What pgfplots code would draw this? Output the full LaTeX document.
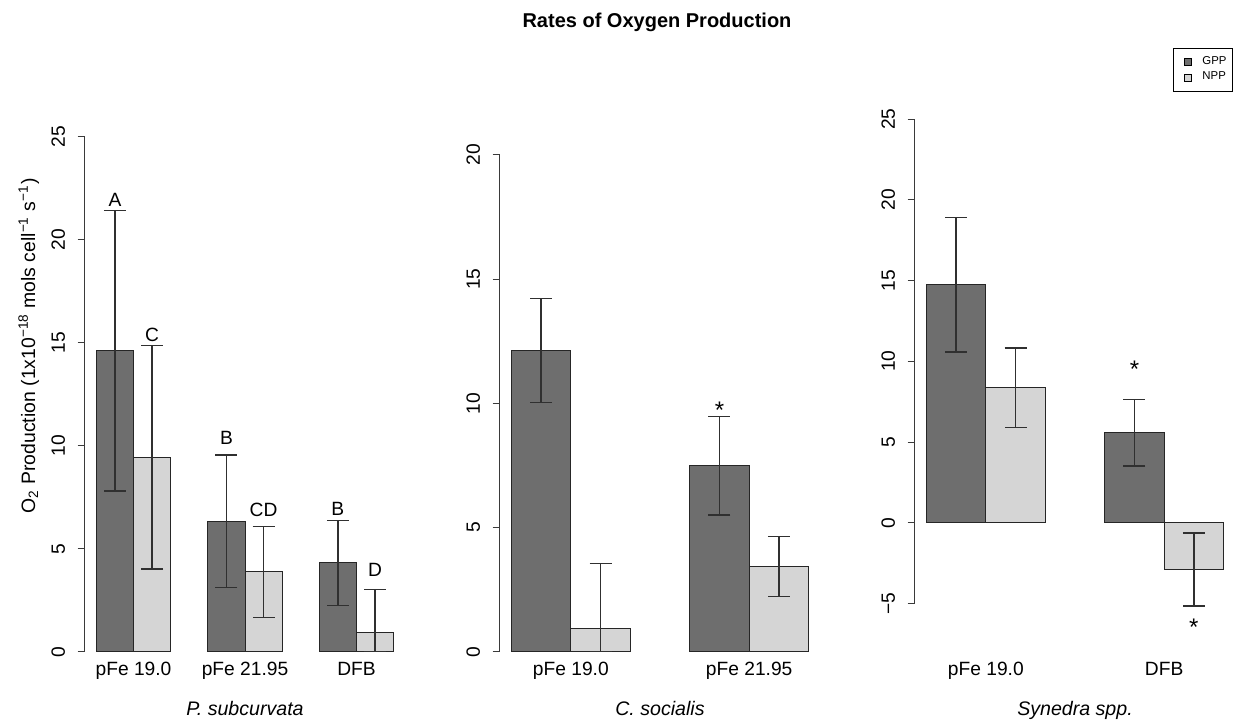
\documentclass[border=0pt]{standalone}
\usepackage{fontspec}
\setmainfont{Liberation Sans}
\usepackage{pgfplots}
\usepackage{pgfplotstable}
\pgfplotsset{compat=1.18}

\definecolor{gppfill}{HTML}{6E6E6E}
\definecolor{nppfill}{HTML}{D5D5D5}
\definecolor{axisgray}{HTML}{3A3A3A}
\definecolor{errgray}{HTML}{303030}

% x = bar centre, y = mean, ep/em = upper/lower error
\pgfplotstableread{
x   y      ep    em
1.5 14.60  6.80  6.80
4.5  6.33  3.22  3.22
7.5  4.31  2.06  2.06
}\psubGPP
\pgfplotstableread{
x   y      ep    em
2.5  9.44  5.43  5.43
5.5  3.87  2.22  2.22
8.5  0.92  2.11  0.92
}\psubNPP
\pgfplotstableread{
x   y      ep    em
1.5 12.12  2.10  2.10
4.5  7.49  1.99  1.99
}\csocGPP
\pgfplotstableread{
x   y      ep    em
2.5  0.94  2.61  0.94
5.5  3.43  1.22  1.22
}\csocNPP
\pgfplotstableread{
x   y      ep    em
1.5 14.75  4.17  4.17
4.5  5.57  2.05  2.05
}\synGPP
\pgfplotstableread{
x   y      ep    em
2.5  8.35  2.47  2.47
5.5 -2.89  2.26  2.26
}\synNPP

\tikzset{
  sigstar/.style={anchor=base, font=\fontsize{12}{13}\selectfont},
  grouplabel/.style={anchor=base, font=\fontsize{9.6}{11}\selectfont},
}

\pgfplotsset{
  panel/.style={
    scale only axis, width=160.5pt, height=278.3pt,
    anchor=south west,
    axis x line*=bottom, axis y line*=left,
    x axis line style={draw=none}, y axis line style={draw=none},
    xtick style={draw=none},
    ytick style={axisgray, line width=0.5pt},
    tick align=outside, major tick length=3.5pt,
    clip=false,
    every tick label/.append style={font=\fontsize{9.6}{11}\selectfont},
    /pgf/number format/assume math mode=true,
    yticklabel style={rotate=90, anchor=south, inner sep=0pt},
    yticklabel shift=6pt,
    xticklabel style={anchor=base, inner sep=0pt},
    xticklabel shift=-1.8pt,
    every axis x label/.style={at={(rel axis cs:0.5,-0.0762)}, anchor=base,
      font=\fontsize{9.8}{11}\selectfont\itshape},
  },
  sq legend/.style={legend image code/.code={
      \path (0pt,0pt);
      \draw[##1, line width=0.4pt, draw=black] (3.0pt,-1.8pt) rectangle (6.6pt,1.8pt);}},
  barset/.style={ybar, bar width=1, bar shift=0pt, draw=black!85, line width=0.5pt,
    error bars/y dir=both, error bars/y explicit,
    error bars/error bar style={line width=0.65pt, draw=errgray},
    error bars/error mark options={rotate=90, line width=0.65pt, draw=errgray, mark size=5.5pt}},
  gpp/.style={barset, fill=gppfill, sq legend},
  npp/.style={barset, fill=nppfill, sq legend},
}

\begin{document}
\begin{tikzpicture}
\useasboundingbox (0,0) rectangle (618pt,360.5pt);

\node[anchor=base, font=\bfseries\fontsize{10}{12}\selectfont] at (328.5pt,346.5pt)
  {Rates of Oxygen Production};

% P. subcurvata
\begin{axis}[panel, at={(42.25pt,24.2pt)},
  xmin=0.68, xmax=9.32, ymin=-1.015, ymax=26.0,
  xtick={2,5,8}, xticklabels={pFe 19.0, pFe 21.95, DFB},
  ytick={0,5,10,15,20,25}, yticklabels={0,5,10,15,20,25},
  xlabel={P. subcurvata},
  ylabel={O\textsubscript{2} Production (1x10\textsuperscript{−18} mols cell\textsuperscript{−1} s\textsuperscript{−1})},
  every axis y label/.style={at={(rel axis cs:-0.154,0.5868)}, rotate=90, anchor=base,
    font=\fontsize{9.7}{11}\selectfont},
]
\addplot[gpp] table[x=x, y=y, y error plus=ep, y error minus=em] {\psubGPP};
\addplot[npp] table[x=x, y=y, y error plus=ep, y error minus=em] {\psubNPP};
\draw[axisgray, line width=0.5pt] (axis cs:0.68,0) -- (axis cs:0.68,25);
\node[grouplabel] at (axis cs:1.5,21.59) {A};
\node[grouplabel] at (axis cs:2.5,15.04) {C};
\node[grouplabel] at (axis cs:4.5,10.06) {B};
\node[grouplabel] at (axis cs:5.5,6.56) {CD};
\node[grouplabel] at (axis cs:7.5,6.60) {B};
\node[grouplabel] at (axis cs:8.5,3.63) {D};
\end{axis}

% C. socialis
\begin{axis}[panel, at={(249.75pt,24.2pt)},
  xmin=0.8, xmax=6.2, ymin=-0.842, ymax=21.57,
  xtick={2,5}, xticklabels={pFe 19.0, pFe 21.95},
  ytick={0,5,10,15,20}, yticklabels={0,5,10,15,20},
  xlabel={C. socialis},
]
\addplot[gpp] table[x=x, y=y, y error plus=ep, y error minus=em] {\csocGPP};
\addplot[npp] table[x=x, y=y, y error plus=ep, y error minus=em] {\csocNPP};
\draw[axisgray, line width=0.5pt] (axis cs:0.8,0) -- (axis cs:0.8,20);
\node[sigstar] at (axis cs:4.5,9.40) {*};
\end{axis}

% Synedra spp.
\begin{axis}[panel, at={(457.25pt,24.2pt)},
  xmin=0.8, xmax=6.2, ymin=-9.276, ymax=25.19,
  xtick={2,5}, xticklabels={pFe 19.0, DFB},
  ytick={-5,0,5,10,15,20,25}, yticklabels={−5,0,5,10,15,20,25},
  xlabel={Synedra spp.},
  legend style={at={(rel axis cs:0.992,1.1222)}, anchor=north east,
    draw=black, line width=0.4pt, fill=white,
    font=\fontsize{5.7}{6}\selectfont,
    inner xsep=2pt, inner ysep=3pt, row sep=0.4pt,
    /tikz/column sep=4.25pt, nodes={inner sep=1pt}},
  legend cell align=left,
]
\addplot[gpp] table[x=x, y=y, y error plus=ep, y error minus=em] {\synGPP};
\addlegendentry{GPP}
\addplot[npp] table[x=x, y=y, y error plus=ep, y error minus=em] {\synNPP};
\addlegendentry{NPP}
\draw[axisgray, line width=0.5pt] (axis cs:0.8,-5) -- (axis cs:0.8,25);
\node[sigstar] at (axis cs:4.5,8.99) {*};
\node[sigstar] at (axis cs:5.5,-7.0) {*};
\end{axis}
\end{tikzpicture}
\end{document}
